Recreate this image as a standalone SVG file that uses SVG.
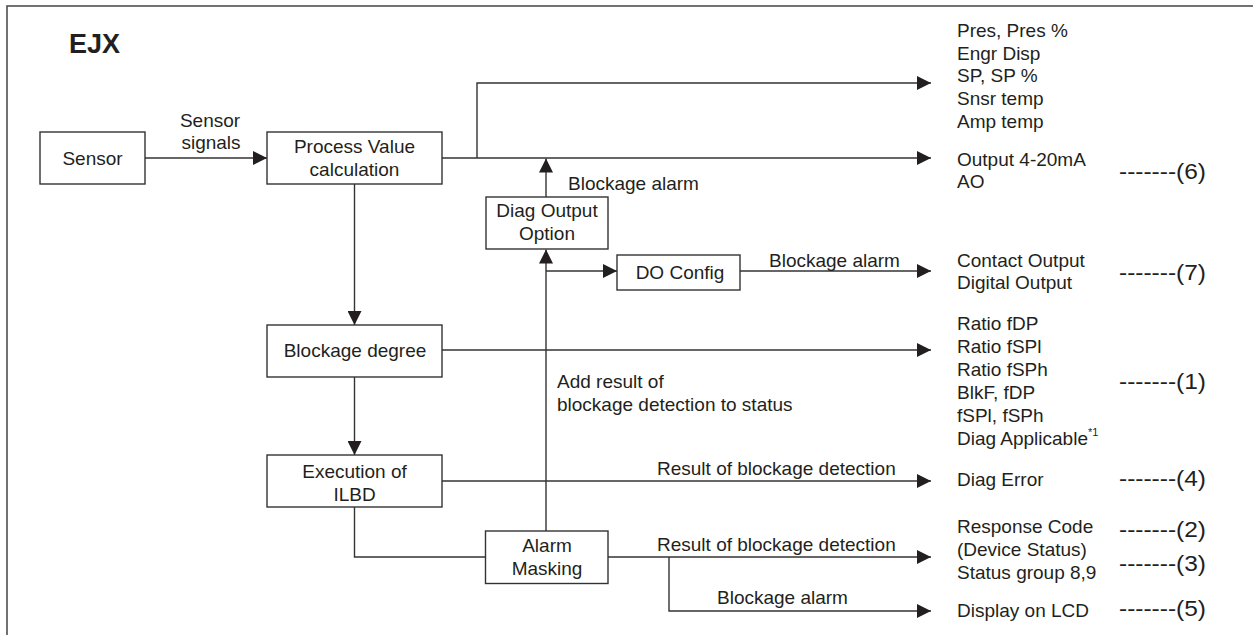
<svg xmlns="http://www.w3.org/2000/svg" width="1253" height="635" viewBox="0 0 1253 635">
<defs>
<style>
text{font-family:"Liberation Sans",Arial,sans-serif;font-size:19px;fill:#231f20}
.c{text-anchor:middle}
.t{font-weight:bold;font-size:27px}
.n{font-size:22.5px}
.box{fill:#fff;stroke:#333;stroke-width:1.4}
.ln{fill:none;stroke:#333;stroke-width:1.4}
.frame{fill:none;stroke:#444;stroke-width:1.5}
</style>
<marker id="ah" markerUnits="userSpaceOnUse" markerWidth="14" markerHeight="14" refX="14" refY="7" orient="auto">
<path d="M0,0 L14,7 L0,14 z" fill="#231f20"/>
</marker>
</defs>
<rect width="1253" height="635" fill="#fff"/>
<path class="frame" d="M7,635 V6 H1253"/>
<text class="t" x="69" y="53">EJX</text>

<g id="connectors">
<path class="ln" d="M145,158 H267" marker-end="url(#ah)"/>
<path class="ln" d="M442,158 H931" marker-end="url(#ah)"/>
<path class="ln" d="M477,158 V83 H931" marker-end="url(#ah)"/>
<path class="ln" d="M546,197 V158.5" marker-end="url(#ah)"/>
<path class="ln" d="M546,531 V249.5" marker-end="url(#ah)"/>
<path class="ln" d="M546,271 H617" marker-end="url(#ah)"/>
<path class="ln" d="M740,271 H931" marker-end="url(#ah)"/>
<path class="ln" d="M354.5,184 V325" marker-end="url(#ah)"/>
<path class="ln" d="M442,350 H931" marker-end="url(#ah)"/>
<path class="ln" d="M354.5,377 V455" marker-end="url(#ah)"/>
<path class="ln" d="M442,481 H931" marker-end="url(#ah)"/>
<path class="ln" d="M354.5,507 V557 H485.5"/>
<path class="ln" d="M608,557 H931" marker-end="url(#ah)"/>
<path class="ln" d="M669,557 V611 H931" marker-end="url(#ah)"/>
<text class="c" x="210" y="127">Sensor</text>
<text class="c" x="211" y="148.5">signals</text>
<text x="568" y="190">Blockage alarm</text>
<text x="769" y="267">Blockage alarm</text>
<text x="557" y="388">Add result of</text>
<text x="557" y="410.5">blockage detection to status</text>
<text x="657" y="475">Result of blockage detection</text>
<text x="657" y="551">Result of blockage detection</text>
<text x="717" y="604">Blockage alarm</text>
</g>

<g id="sensor">
<rect class="box" x="40" y="132" width="105" height="52"/>
<text class="c" x="92.5" y="165">Sensor</text>
</g>
<g id="process-value">
<rect class="box" x="267" y="132" width="175" height="52"/>
<text class="c" x="354.5" y="152.5">Process Value</text>
<text class="c" x="354.5" y="175.5">calculation</text>
</g>
<g id="diag-output-option">
<rect class="box" x="486" y="197" width="122" height="52"/>
<text class="c" x="547" y="217">Diag Output</text>
<text class="c" x="547" y="240">Option</text>
</g>
<g id="do-config">
<rect class="box" x="617" y="255" width="123" height="35"/>
<text class="c" x="680" y="278.5">DO Config</text>
</g>
<g id="blockage-degree">
<rect class="box" x="267" y="325" width="175" height="52"/>
<text class="c" x="355" y="357">Blockage degree</text>
</g>
<g id="execution-ilbd">
<rect class="box" x="267" y="455" width="175" height="52"/>
<text class="c" x="354.5" y="478">Execution of</text>
<text class="c" x="354.5" y="501">ILBD</text>
</g>
<g id="alarm-masking">
<rect class="box" x="485.5" y="531" width="122.5" height="52.5"/>
<text class="c" x="547" y="552">Alarm</text>
<text class="c" x="547" y="575">Masking</text>
</g>

<g id="outputs">
<text x="957" y="37">Pres, Pres %</text>
<text x="957" y="59.7">Engr Disp</text>
<text x="957" y="82.4">SP, SP %</text>
<text x="957" y="105.1">Snsr temp</text>
<text x="957" y="127.8">Amp temp</text>
<text x="957" y="165.5">Output 4-20mA</text>
<text x="957" y="187.5">AO</text>
<text x="957" y="266.5">Contact Output</text>
<text x="957" y="289">Digital Output</text>
<text x="957" y="330">Ratio fDP</text>
<text x="957" y="353">Ratio fSPl</text>
<text x="957" y="376">Ratio fSPh</text>
<text x="957" y="399">BlkF, fDP</text>
<text x="957" y="422">fSPl, fSPh</text>
<text x="957" y="445">Diag Applicable<tspan font-size="11" dy="-9">*1</tspan></text>
<text x="957" y="486">Diag Error</text>
<text x="957" y="533">Response Code</text>
<text x="957" y="555.5">(Device Status)</text>
<text x="957" y="579">Status group 8,9</text>
<text x="957" y="617">Display on LCD</text>
<text class="n" x="1119" y="179" textLength="87" lengthAdjust="spacingAndGlyphs">-------(6)</text>
<text class="n" x="1119" y="280" textLength="87" lengthAdjust="spacingAndGlyphs">-------(7)</text>
<text class="n" x="1119" y="388.5" textLength="87" lengthAdjust="spacingAndGlyphs">-------(1)</text>
<text class="n" x="1119" y="485.5" textLength="87" lengthAdjust="spacingAndGlyphs">-------(4)</text>
<text class="n" x="1119" y="536.5" textLength="87" lengthAdjust="spacingAndGlyphs">-------(2)</text>
<text class="n" x="1119" y="570.5" textLength="87" lengthAdjust="spacingAndGlyphs">-------(3)</text>
<text class="n" x="1119" y="616" textLength="87" lengthAdjust="spacingAndGlyphs">-------(5)</text>
</g>
</svg>
